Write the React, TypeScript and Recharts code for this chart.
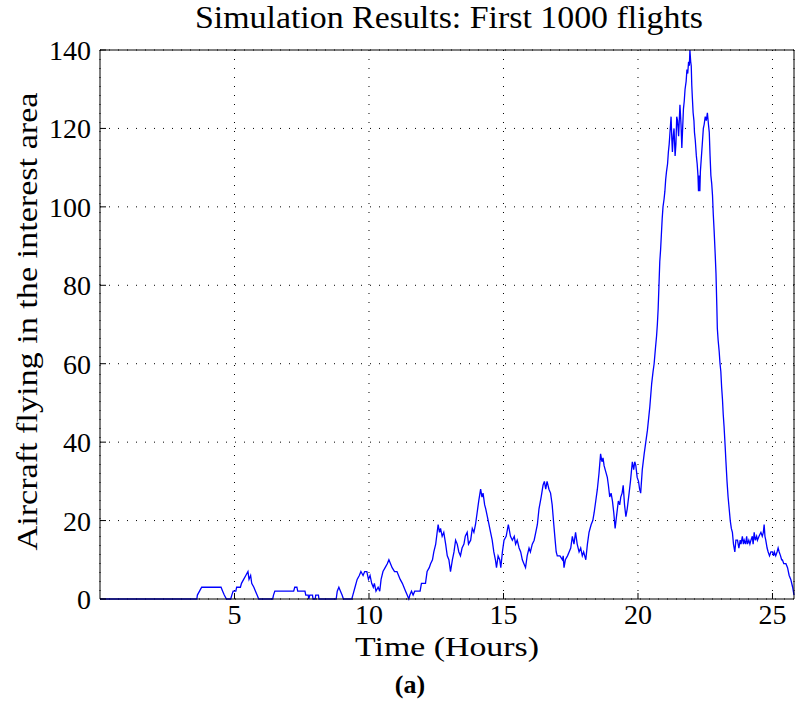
import { LineChart, Line, XAxis, YAxis, CartesianGrid, Label } from 'recharts';

// time in hours, aircraft count
const hours = [
  0, 3.6, 3.62, 3.7, 3.78, 4.5, 4.56, 4.62, 4.7, 4.86, 4.9, 4.95, 5.05, 5.08, 5.22, 5.26, 5.34, 5.42, 5.5, 5.54,
  5.6, 5.64, 5.72, 5.78, 5.84, 5.9, 6.42, 6.45, 6.5, 7.2, 7.24, 7.32, 7.35, 7.62, 7.65, 7.74, 7.76, 7.8, 7.9, 7.92,
  8.0, 8.02, 8.12, 8.14, 8.78, 8.82, 8.88, 8.94, 9.0, 9.05, 9.36, 9.4, 9.48, 9.56, 9.64, 9.7, 9.78, 9.84, 9.92, 9.98,
  10.04, 10.1, 10.16, 10.2, 10.26, 10.34, 10.4, 10.45, 10.52, 10.6, 10.68, 10.74, 10.8, 10.86, 10.95, 11.04, 11.1, 11.16, 11.24, 11.3,
  11.36, 11.42, 11.48, 11.52, 11.58, 11.64, 11.7, 11.9, 11.95, 12.1, 12.16, 12.24, 12.29, 12.36, 12.41, 12.48, 12.57, 12.62, 12.66, 12.72,
  12.78, 12.85, 12.91, 12.97, 13.03, 13.1, 13.16, 13.22, 13.28, 13.34, 13.4, 13.46, 13.53, 13.58, 13.65, 13.7, 13.78, 13.84, 13.9, 13.96,
  14.02, 14.08, 14.15, 14.2, 14.24, 14.3, 14.34, 14.4, 14.46, 14.52, 14.58, 14.64, 14.7, 14.74, 14.8, 14.86, 14.9, 14.96, 15.02, 15.1,
  15.18, 15.26, 15.33, 15.4, 15.45, 15.51, 15.58, 15.64, 15.7, 15.76, 15.82, 15.88, 15.95, 16.0, 16.07, 16.14, 16.2, 16.26, 16.32, 16.4,
  16.47, 16.52, 16.57, 16.62, 16.69, 16.75, 16.81, 16.87, 16.92, 16.96, 17.0, 17.1, 17.19, 17.22, 17.25, 17.3, 17.38, 17.44, 17.5, 17.56,
  17.62, 17.68, 17.74, 17.81, 17.87, 17.93, 17.98, 18.06, 18.12, 18.18, 18.26, 18.32, 18.37, 18.43, 18.49, 18.55, 18.61, 18.66, 18.7, 18.74,
  18.78, 18.86, 18.9, 18.95, 19.0, 19.05, 19.1, 19.15, 19.2, 19.27, 19.32, 19.36, 19.41, 19.45, 19.5, 19.55, 19.6, 19.67, 19.72, 19.79,
  19.84, 19.88, 19.92, 19.97, 20.02, 20.06, 20.1, 20.16, 20.23, 20.29, 20.35, 20.44, 20.51, 20.56, 20.6, 20.65, 20.69, 20.72, 20.75, 20.78,
  20.81, 20.84, 20.87, 20.9, 20.93, 20.97, 21.0, 21.03, 21.06, 21.1, 21.13, 21.16, 21.18, 21.21, 21.23, 21.26, 21.28, 21.31, 21.34, 21.38,
  21.41, 21.44, 21.47, 21.51, 21.56, 21.6, 21.63, 21.66, 21.69, 21.72, 21.75, 21.79, 21.82, 21.85, 21.88, 21.91, 21.93, 21.96, 21.98, 22.0,
  22.02, 22.05, 22.08, 22.1, 22.13, 22.15, 22.17, 22.2, 22.23, 22.25, 22.27, 22.3, 22.32, 22.35, 22.37, 22.4, 22.43, 22.46, 22.5, 22.54,
  22.58, 22.62, 22.65, 22.68, 22.71, 22.74, 22.77, 22.8, 22.83, 22.87, 22.9, 22.93, 22.95, 22.98, 23.02, 23.05, 23.08, 23.11, 23.14, 23.17,
  23.2, 23.24, 23.27, 23.31, 23.35, 23.39, 23.43, 23.47, 23.51, 23.55, 23.6, 23.64, 23.7, 23.75, 23.8, 23.83, 23.88, 23.92, 23.95, 24.0,
  24.04, 24.07, 24.12, 24.16, 24.2, 24.25, 24.28, 24.32, 24.36, 24.41, 24.44, 24.5, 24.57, 24.62, 24.66, 24.69, 24.72, 24.75, 24.8, 24.84,
  24.89, 24.94, 25.0, 25.04, 25.07, 25.12, 25.17, 25.21, 25.25, 25.3, 25.34, 25.37, 25.42, 25.5, 25.56, 25.62, 25.68, 25.75, 25.8,
];

const aircraft = [
  0, 0, 1, 2, 3, 3, 2, 1, 0, 0, 1, 2, 2, 3, 3, 4, 5, 6, 7, 5,
  6, 4, 3, 2, 1, 0, 0, 1, 2, 2, 3, 3, 2, 2, 1, 1, 0, 1, 1, 0,
  0, 1, 1, 0, 0, 2, 3, 2, 1, 0, 0, 1, 3, 5, 6, 7, 6, 7, 7, 5,
  6, 4, 3, 4, 2, 3, 2, 5, 7, 8, 9, 10, 9, 8, 7, 7, 6, 5, 4, 3,
  2, 1, 0, 1, 2, 1, 2, 2, 4, 4, 7, 8, 9, 10, 12, 14, 19, 17, 18, 16,
  17, 14, 11, 10, 7, 10, 12, 15, 14, 12, 11, 13, 14, 16, 17, 14, 15, 18, 17, 19,
  22, 25, 28, 26, 27, 24, 23, 21, 19, 17, 15, 12, 10, 8, 11, 10, 8, 12, 15, 16,
  19, 16, 15, 16, 14, 15, 13, 12, 10, 9, 8, 11, 13, 12, 14, 15, 17, 19, 23, 26,
  29, 30, 28, 30, 28, 27, 24, 19, 15, 12, 11, 11, 10, 11, 8, 10, 11, 12, 13, 16,
  14, 17, 14, 12, 13, 11, 12, 10, 14, 17, 19, 20, 22, 25, 28, 32, 37, 35, 36, 34,
  33, 31, 29, 26, 27, 25, 22, 18, 21, 25, 24, 26, 27, 29, 24, 21, 23, 27, 30, 35,
  33, 35, 34, 31, 30, 28, 27, 33, 37, 40, 43, 49, 55, 58, 60, 64, 67, 70, 74, 80,
  86, 89, 93, 97, 100, 102, 104, 107, 109, 111, 114, 116, 118, 121, 123, 117, 114, 118, 120, 113,
  116, 123, 122, 118, 126, 121, 115, 120, 125, 127, 130, 132, 135, 134, 137, 136, 140, 137, 136, 131,
  128, 124, 122, 119, 117, 115, 113, 111, 108, 104, 108, 104, 109, 112, 114, 117, 120, 121, 123, 122,
  124, 121, 119, 113, 108, 106, 103, 98, 94, 88, 83, 75, 69, 66, 63, 60, 58, 54, 51, 47,
  44, 39, 35, 30, 26, 23, 20, 18, 17, 14, 12, 15, 15, 13, 15, 14, 16, 14, 15, 14,
  16, 14, 15, 14, 15, 16, 14, 17, 15, 16, 15, 16, 17, 16, 17, 19, 16, 15, 13, 12,
  11, 12, 12, 11, 12, 11, 12, 13, 12, 11, 10, 10, 9, 9, 8, 6, 5, 3, 1,
];

const xTicks = [5, 10, 15, 20, 25];
const yTicks = [0, 20, 40, 60, 80, 100, 120, 140];

const data = hours.map((t, i) => ({ t, n: aircraft[i] }));

const FONT = '"Liberation Serif", "Times New Roman", serif';

export default function App() {
  return (
    <div style={{ position: 'absolute', left: 0, top: 0, width: 795, height: 702, background: '#fff' }}>
      <LineChart width={795} height={702} data={data} margin={{ top: 49, right: 0, bottom: 0, left: 0 }}>
        <CartesianGrid stroke="#000" strokeDasharray="1 8" />
        <XAxis
          dataKey="t"
          type="number"
          domain={[0, 25.8]}
          ticks={xTicks}
          height={103}
          stroke="#000"
          tickSize={-6}
          tickMargin={11}
          tick={{ fontSize: 28, fill: '#000', fontFamily: FONT }}
        >
          <Label
            content={(props: any) => {
              const vb = props.viewBox;
              return (
                <g fontFamily={FONT} fill="#000">
                  <text x={vb.x + vb.width / 2} y={vb.y + 57} textAnchor="middle" fontSize={28} textLength={184} lengthAdjust="spacingAndGlyphs">
                    Time (Hours)
                  </text>
                  <text x={vb.x + vb.width / 2 - 37} y={vb.y + 94} textAnchor="middle" fontSize={26} fontWeight="bold">
                    (a)
                  </text>
                </g>
              );
            }}
          />
        </XAxis>
        <XAxis
          xAxisId="top"
          orientation="top"
          dataKey="t"
          type="number"
          domain={[0, 25.8]}
          ticks={xTicks}
          height={1}
          stroke="#000"
          tickSize={-6}
          tick={false}
        >
          <Label
            content={(props: any) => {
              const vb = props.viewBox;
              return (
                <text x={vb.x + vb.width / 2 + 2} y={28} textAnchor="middle" fontFamily={FONT} fontSize={32} fill="#000" textLength={508} lengthAdjust="spacingAndGlyphs">
                  Simulation Results: First 1000 flights
                </text>
              );
            }}
          />
        </XAxis>
        <YAxis
          domain={[0, 140]}
          ticks={yTicks}
          width={100}
          stroke="#000"
          tickSize={-6}
          tickMargin={15}
          tick={{ fontSize: 28, fill: '#000', fontFamily: FONT }}
        >
          <Label
            content={(props: any) => {
              const vb = props.viewBox;
              const cy = vb.y + vb.height / 2 - 3;
              return (
                <text x={37} y={cy} transform={`rotate(-90, 37, ${cy})`} textAnchor="middle" fontFamily={FONT} fontSize={30} fill="#000" textLength={458} lengthAdjust="spacingAndGlyphs">
                  Aircraft flying in the interest area
                </text>
              );
            }}
          />
        </YAxis>
        <YAxis
          yAxisId="right"
          orientation="right"
          domain={[0, 140]}
          ticks={yTicks}
          width={1}
          stroke="#000"
          tickSize={-6}
          tick={false}
        />
        <Line
          type="linear"
          dataKey="n"
          stroke="#0000ff"
          strokeWidth={1.3}
          dot={false}
          isAnimationActive={false}
        />
      </LineChart>
    </div>
  );
}
